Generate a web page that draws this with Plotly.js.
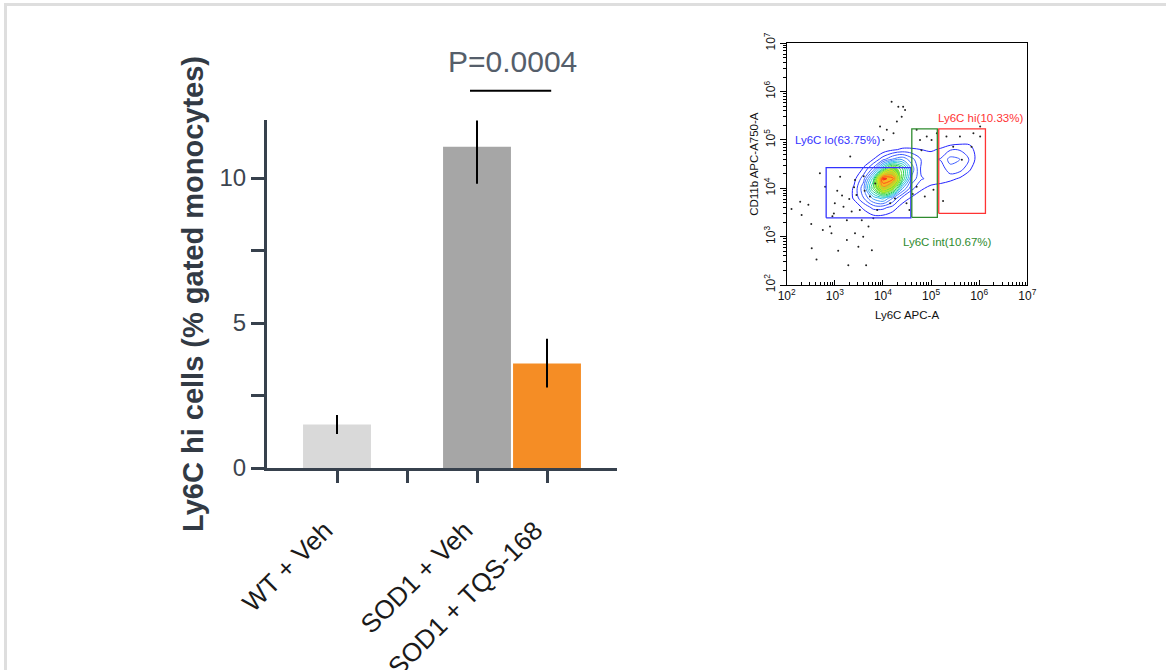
<!DOCTYPE html>
<html>
<head>
<meta charset="utf-8">
<script src="https://cdn.plot.ly/plotly-3.0.1.min.js"></script>
<style>
  html, body { margin: 0; padding: 0; background: #ffffff; overflow: hidden; }
  #frame { position: absolute; left: 4px; top: 3px; width: 1300px; height: 800px;
           border-left: 3px solid #dedede; border-top: 3px solid #dedede; }
  #chart { position: absolute; left: 0; top: 0; width: 1166px; height: 670px; }
</style>
</head>
<body>
<div id="frame"></div>
<div id="chart"></div>
<script>
// ---------- main bar chart data ----------
const categories = ['WT + Veh', '', 'SOD1 + Veh', 'SOD1 + TQS-168'];
const barPositions = [0, 2, 3];
const barValues = [1.5, 11.08, 3.6];
const errPlus = [0.33, 0.9, 0.86];
const errMinus = [0.33, 1.28, 0.82];
const barColors = ['#d9d9d9', '#a6a6a6', '#f58d25'];
const yTickVals = [0, 2.5, 5, 7.5, 10];
const yTickText = ['0', '', '5', '', '10'];
const pValueText = 'P=0.0004';

// ---------- inset flow cytometry (log10 units) ----------
const gateNames = ['Ly6C lo(63.75%)', 'Ly6C int(10.67%)', 'Ly6C hi(10.33%)'];
const gateColors = ['#3333ff', '#2e8b2e', '#ff3333'];
const gateX0 = [2.82, 4.60, 5.16];
const gateX1 = [4.58, 5.13, 6.13];
const gateY0 = [3.39, 3.40, 3.48];
const gateY1 = [4.43, 5.23, 5.23];
const gateLabelX = [3.05, 5.35, 6.02];
const gateLabelY = [5.00, 2.89, 5.46];

const dotX = [2.10,2.28,2.31,2.45,2.51,2.52,2.62,2.69,2.75,2.80,2.90,2.93,3.00,3.07,3.11,3.18,3.25,3.25,3.28,3.32,3.42,3.42,3.45,3.49,3.52,3.56,3.59,3.65,3.70,3.73,3.77,3.80,3.84,3.94,4.01,4.08,4.18,4.22,4.29,4.32,4.39,4.42,4.46,4.25,4.15,4.49,4.70,4.77,4.80,4.91,5.01,5.12,5.05,4.87,4.70,5.32,5.60,5.88,6.02,5.84,5.64,5.46,6.02,3.05,3.35,2.95,3.60,4.55,4.62,5.25,3.15,3.40,3.62,3.88,2.98,3.30];
const dotY = [3.57,3.72,3.45,3.66,3.26,2.76,2.53,4.31,3.14,4.03,3.21,3.07,3.69,2.71,4.24,3.62,3.34,2.93,2.41,4.66,4.17,3.07,3.86,2.79,3.55,3.34,3.00,2.41,3.21,3.83,2.72,3.38,4.10,5.28,5.00,5.21,5.79,5.14,5.38,5.69,5.48,5.69,5.62,3.79,3.69,3.69,5.21,5.00,4.79,5.07,5.00,5.14,3.97,3.83,4.03,5.07,5.07,5.14,5.07,4.86,4.59,4.86,5.28,3.95,3.52,3.42,4.25,3.55,3.88,3.74,3.85,4.02,3.95,3.55,3.48,3.78];

const gridX = [2.8,3.0,3.2,3.4,3.6,3.8,4.0,4.2,4.4,4.6,4.8,5.0,5.2,5.4,5.6,5.8,6.0];
const gridY = [3.2,3.4,3.6,3.8,4.0,4.2,4.4,4.6,4.8,5.0];
const density = [
  [0,0,0,0,0,0,0,0,0,0,0,0,0,0,0,0,0],
  [0,0,0,0,0.2,0.4,0.4,0.2,0,0,0,0,0,0,0,0,0],
  [0,0,0,0.2,0.7,1.3,1.3,0.9,0.3,0,0,0,0,0,0,0,0],
  [0,0,0,0.7,1.7,3.0,3.6,2.3,1.0,0.5,0.2,0,0,0,0,0,0],
  [0,0,0,0.7,2.1,5.2,8.0,6.6,2.9,1.3,0.7,0.4,0.2,0,0,0,0],
  [0,0,0,0.4,1.5,4.2,9.6,9.1,5.2,2.1,1.2,1.0,1.0,0.8,0.5,0.2,0],
  [0,0,0,0,0.7,1.9,4.6,6.8,5.2,2.6,1.0,0.6,0.8,1.5,1.4,0.7,0],
  [0,0,0,0,0.2,0.6,1.5,2.3,2.7,1.9,1.1,1.0,1.2,1.9,1.7,1.1,0.2],
  [0,0,0,0,0,0,0.2,0.5,0.7,0.7,0.6,0.5,0.7,1.1,1.1,1.0,0],
  [0,0,0,0,0,0,0,0,0,0,0,0,0,0,0.2,0.2,0]
];
const decadeTicks = [2,3,4,5,6,7];
const decadeText = ['10<sup>2</sup>','10<sup>3</sup>','10<sup>4</sup>','10<sup>5</sup>','10<sup>6</sup>','10<sup>7</sup>'];

const pw = v => Math.pow(10, v);
const FONT = 'Liberation Sans, Arial, Helvetica, sans-serif';
const AXC = '#37414d';

const traces = [];
traces.push({
  type: 'bar', x: barPositions, y: barValues, width: 0.97,
  marker: { color: barColors, line: { width: 0 } },
  error_y: { type: 'data', symmetric: false, array: errPlus, arrayminus: errMinus,
             color: '#000000', thickness: 2, width: 0 },
  xaxis: 'x', yaxis: 'y', hoverinfo: 'skip'
});

// filled dense core
traces.push({
  type: 'contour', x: gridX.map(pw), y: gridY.map(pw), z: density,
  xaxis: 'x2', yaxis: 'y2', showscale: false, hoverinfo: 'skip',
  zauto: false, zmin: 0, zmax: 10,
  contours: { coloring: 'fill', start: 3.5, end: 9.5, size: 1.2 },
  line: { width: 0, smoothing: 1.0 },
  colorscale: [[0,'rgba(255,255,255,0)'],[0.34,'rgba(255,255,255,0)'],[0.35,'#3fd86a'],
               [0.6,'#6fe03a'],[0.75,'#e8f02a'],[0.88,'#ff9a1e'],[1,'#ff2a1a']]
});

traces.push({
  type: 'contour', x: gridX.map(pw), y: gridY.map(pw), z: density,
  xaxis: 'x2', yaxis: 'y2', showscale: false, hoverinfo: 'skip',
  contours: { coloring: 'lines', start: 0.6, end: 9.5, size: 0.55 },
  line: { width: 1, smoothing: 1.0 },
  colorscale: [[0,'#2424ff'],[0.2,'#4a7cff'],[0.35,'#27c9e6'],[0.5,'#22d24a'],
               [0.7,'#e6f01e'],[0.85,'#ff9a1e'],[1,'#ff1a1a']]
});

traces.push({
  type: 'scatter', mode: 'markers', x: dotX.map(pw), y: dotY.map(pw),
  xaxis: 'x2', yaxis: 'y2', marker: { size: 2, color: '#222222' }, hoverinfo: 'skip'
});

for (let i = 0; i < gateNames.length; i++) {
  traces.push({
    type: 'scatter', mode: 'lines', xaxis: 'x2', yaxis: 'y2', hoverinfo: 'skip',
    x: [gateX0[i], gateX1[i], gateX1[i], gateX0[i], gateX0[i]].map(pw),
    y: [gateY0[i], gateY0[i], gateY1[i], gateY1[i], gateY0[i]].map(pw),
    line: { color: gateColors[i], width: 1.3 }
  });
}

const annotations = [{
  text: pValueText, xref: 'x', yref: 'paper', x: 2.5, y: (670 - 62) / 670,
  showarrow: false, xanchor: 'center', yanchor: 'middle',
  font: { family: FONT, size: 30, color: '#555e6a' }
}];
for (let i = 0; i < gateNames.length; i++) {
  annotations.push({
    text: gateNames[i], xref: 'x2', yref: 'y2', x: gateLabelX[i], y: gateLabelY[i],
    showarrow: false, xanchor: 'center', yanchor: 'middle',
    font: { family: FONT, size: 11.5, color: gateColors[i] }
  });
}

const layout = {
  width: 1166, height: 670,
  margin: { l: 0, r: 0, t: 0, b: 0 },
  paper_bgcolor: 'rgba(0,0,0,0)', plot_bgcolor: 'rgba(0,0,0,0)',
  showlegend: false,
  font: { family: FONT },
  xaxis: {
    domain: [267 / 1166, 617 / 1166], range: [-1, 4],
    tickmode: 'array', tickvals: [0, 1, 2, 3], ticktext: categories,
    tickangle: -45, ticks: 'outside', ticklen: 12, tickwidth: 3, tickcolor: AXC,
    showline: true, linewidth: 3, linecolor: AXC, zeroline: false, showgrid: false,
    tickfont: { family: FONT, size: 26, color: '#1a1a1a' },
    ticklabelstandoff: 22, ticklabelshift: -12,
    fixedrange: true
  },
  yaxis: {
    domain: [(670 - 468) / 670, (670 - 120) / 670], range: [0, 12],
    tickmode: 'array', tickvals: yTickVals, ticktext: yTickText,
    ticks: 'outside', ticklen: 13, tickwidth: 3, tickcolor: AXC,
    showline: true, linewidth: 3, linecolor: AXC, zeroline: false, showgrid: false,
    tickfont: { family: FONT, size: 24, color: '#3c4550' },
    title: { text: '<b>Ly6C hi cells (% gated monocytes)</b>', standoff: 8,
             font: { family: FONT, size: 29, color: '#323a44' } },
    fixedrange: true
  },
  xaxis2: {
    domain: [786.7 / 1166, 1027.3 / 1166], anchor: 'y2', type: 'log', range: [2, 7],
    tickmode: 'array', tickvals: decadeTicks.map(pw), ticktext: decadeText,
    ticks: 'inside', ticklen: 5, tickwidth: 1, tickcolor: '#000',
    minor: { ticks: 'inside', ticklen: 3, tickwidth: 1, tickcolor: '#000', dtick: 'D1' },
    showline: true, mirror: true, linewidth: 1, linecolor: '#000', showgrid: false, zeroline: false,
    tickfont: { family: FONT, size: 12, color: '#111' },
    title: { text: 'Ly6C APC-A', standoff: 8, font: { family: FONT, size: 11.5, color: '#111' } },
    fixedrange: true
  },
  yaxis2: {
    domain: [(670 - 285) / 670, (670 - 43.3) / 670], anchor: 'x2', type: 'log', range: [2, 7],
    tickmode: 'array', tickvals: decadeTicks.map(pw), ticktext: decadeText, tickangle: -90,
    ticks: 'outside', ticklen: 6, tickwidth: 1, tickcolor: '#000',
    minor: { ticks: 'outside', ticklen: 3, tickwidth: 1, tickcolor: '#000', dtick: 'D1' },
    showline: true, mirror: true, linewidth: 1, linecolor: '#000', showgrid: false, zeroline: false,
    tickfont: { family: FONT, size: 12, color: '#111' },
    title: { text: 'CD11b APC-A750-A', standoff: 0, font: { family: FONT, size: 11.5, color: '#111' } },
    fixedrange: true
  },
  shapes: [{
    type: 'line', xref: 'x', yref: 'paper', x0: 1.9, x1: 3.06,
    y0: (670 - 90.7) / 670, y1: (670 - 90.7) / 670,
    line: { color: '#000000', width: 2 }
  }],
  annotations: annotations
};

Plotly.newPlot('chart', traces, layout, { displayModeBar: false, staticPlot: true });
</script>
</body>
</html>
